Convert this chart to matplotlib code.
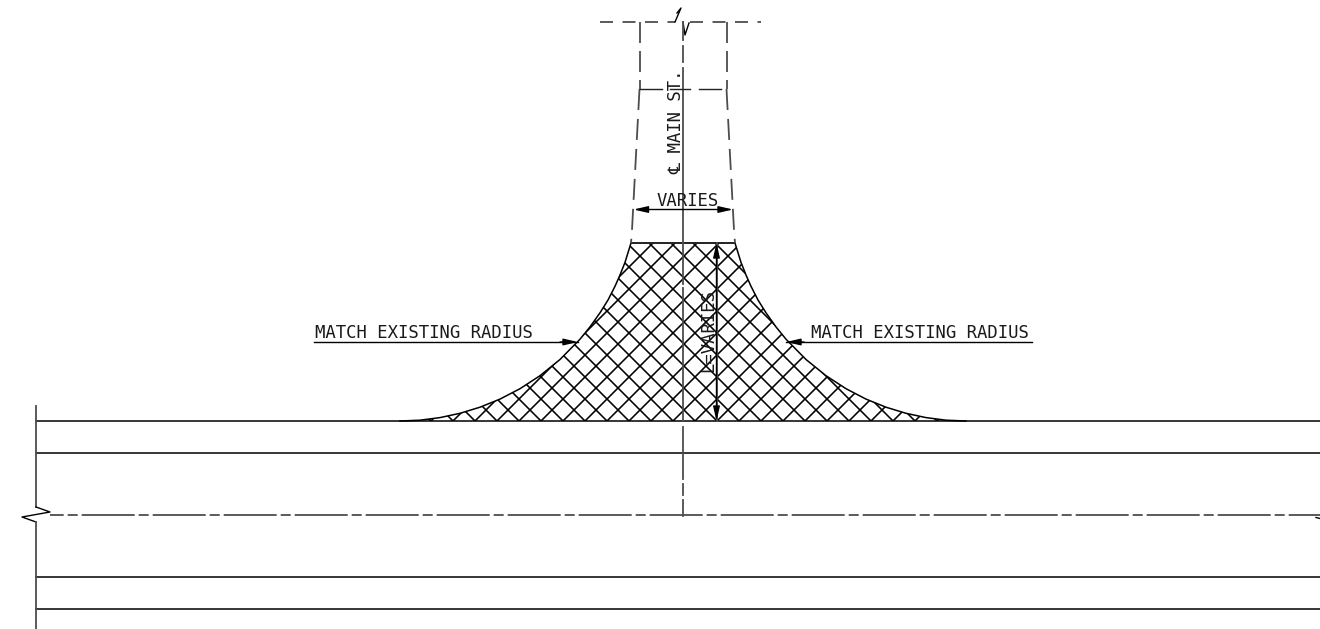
import matplotlib
matplotlib.use('Agg')
import matplotlib.pyplot as plt
import numpy as np
from matplotlib.collections import LineCollection
from matplotlib.patches import Polygon

plt.rcParams['font.family'] = ['DejaVu Sans Mono', 'DejaVu Sans', 'Noto Sans', 'Noto Sans CJK SC', 'Noto Sans CJK JP', 'Roboto', 'Lato', 'Liberation Sans']
plt.rcParams['lines.scale_dashes'] = False

W, H = 1320, 629
PX = 72 / 100  # one pixel in points
LW = 1.0
GREY = '#4d4d4d'
GREY_LW = 1.3

# flare edge, left side (pixels)
curve_x = [400, 420, 440, 460, 480, 500, 520, 540, 560, 580, 590, 600, 608, 615, 620, 625, 631]
curve_y = [421, 420.2, 417.6, 413.3, 407.2, 399.1, 388.7, 375.7, 359.5, 339.2, 326.9, 312.8, 300, 286.3, 275, 262.4, 243]
CENTER_X = 683

# road lines
road_y = [421, 453, 577, 609]
road_x0, road_x1 = 36, 1320

break_x = [36, 36, 50, 22, 36, 36]
break_y = [406, 507, 512, 517, 522, 629]

center_segments = [(22, 40), (46, 62), (68, 284), (288, 421), (427, 479), (484, 495), (500, 516)]

left_ext_x = [639.5, 639.5, 632, 631]
left_ext_y = [22, 89, 230, 243]
right_ext_x = [726.5, 726.5, 734, 735]
right_ext_y = [22, 89, 230, 243]

match_left_x = [314, 578]
match_right_x = [1032, 786]
match_y = 342

fig = plt.figure(figsize=(W / 100, H / 100), dpi=100)
ax = fig.add_axes([0, 0, 1, 1])
ax.set_xlim(0, W)
ax.set_ylim(H, 0)
ax.axis('off')


def dash(on, off):
    return (0, (on * PX, off * PX))


def arrow(tail, tip):
    ax.annotate('', xy=tip, xytext=tail,
                arrowprops=dict(arrowstyle='-|>,head_length=0.78,head_width=0.18', color='black',
                                lw=LW, shrinkA=0, shrinkB=0, mutation_scale=11))


# ── Hatched flare ──
left_x = np.array(curve_x, dtype=float)
left_y = np.array(curve_y, dtype=float)
right_x = 2 * CENTER_X - left_x
outline = np.column_stack([np.r_[left_x, right_x[::-1]], np.r_[left_y, left_y[::-1]]])
clip = Polygon(outline, closed=True, transform=ax.transData, fc='none', ec='none')
ax.add_patch(clip)

hatch = []
for k in range(-14, 15):
    c1 = 1094 + 22 * k
    c2 = -274 + 22 * k
    hatch.append([(c1, 0), (c1 - 629, 629)])
    hatch.append([(-c2, 0), (629 - c2, 629)])
hatch_lines = LineCollection(hatch, colors='black', linewidths=1.15)
ax.add_collection(hatch_lines)
hatch_lines.set_clip_path(clip)

ax.plot(left_x, left_y, color='black', lw=LW + 0.1)
ax.plot(right_x, left_y, color='black', lw=LW + 0.1)
ax.plot([left_x[-1], right_x[-1]], [243, 243], color='#222222', lw=1.4)

# ── Road ──
for y in road_y:
    ax.plot([road_x0, road_x1], [y, y], color='black', lw=LW + 0.1)
ax.plot(break_x[:2], break_y[:2], color=GREY, lw=GREY_LW)
ax.plot(break_x[1:5], break_y[1:5], color='black', lw=LW)
ax.plot(break_x[4:], break_y[4:], color=GREY, lw=GREY_LW)
ax.plot([50, 1320], [515, 515], color=GREY, lw=GREY_LW,
        linestyle=(39.3 * PX, (53 * PX, 4 * PX, 10 * PX, 4 * PX)))
ax.plot([1316, 1320], [517.5, 518.5], color='black', lw=LW)

# ── Main street ──
ax.plot([600, 675], [22, 22], color=GREY, lw=GREY_LW, linestyle=(0, (13 * PX, 9.5 * PX)))
ax.plot([675, 681, 677], [22, 8, 13], color='black', lw=LW)
ax.plot([683, 685, 689], [22, 35, 23], color='black', lw=LW)
ax.plot([690, 761], [22, 22], color=GREY, lw=GREY_LW, linestyle=(0, (13 * PX, 9.5 * PX)))

for ext_x, ext_y in [(left_ext_x, left_ext_y), (right_ext_x, right_ext_y)]:
    ax.plot(ext_x[:2], ext_y[:2], color=GREY, lw=GREY_LW, linestyle=dash(21, 8))
    ax.plot(ext_x[1:], ext_y[1:], color=GREY, lw=GREY_LW, linestyle=dash(21, 9))

for y0, y1 in center_segments:
    ax.plot([CENTER_X, CENTER_X], [y0, y1], color=GREY, lw=GREY_LW)

for x0, x1 in [(640, 662), (670, 690), (699, 721)]:
    ax.plot([x0, x1], [89, 89], color='#222222', lw=LW)

# ── Dimensions ──
arrow((683, 209.5), (633.5, 209.5))
arrow((683, 209.5), (733, 209.5))
ax.plot([716.5, 716.5], [243, 421], color=GREY, lw=GREY_LW)
arrow((716.5, 330), (716.5, 243))
arrow((716.5, 330), (716.5, 421))
ax.plot(match_left_x, [match_y, match_y], color='black', lw=LW)
arrow((560, match_y), (match_left_x[1], match_y))
ax.plot(match_right_x, [match_y, match_y], color='black', lw=LW)
arrow((804, match_y), (match_right_x[1], match_y))

# ── Labels ──
text_kw = dict(color='#1a1a1a', fontsize=12.4, va='baseline')
ax.text(315, 338, 'MATCH EXISTING RADIUS', ha='left', **text_kw)
ax.text(811, 338, 'MATCH EXISTING RADIUS', ha='left', **text_kw)
ax.text(687.5, 206, 'VARIES', ha='center', **text_kw)
ax.text(713, 372, 'L=VARIES', ha='left', rotation=90, rotation_mode='anchor', **text_kw)
ax.text(681, 174, '\u2104 MAIN ST.', ha='left', rotation=90, rotation_mode='anchor', **text_kw)

fig.savefig('out.png', dpi=100, facecolor='white')
